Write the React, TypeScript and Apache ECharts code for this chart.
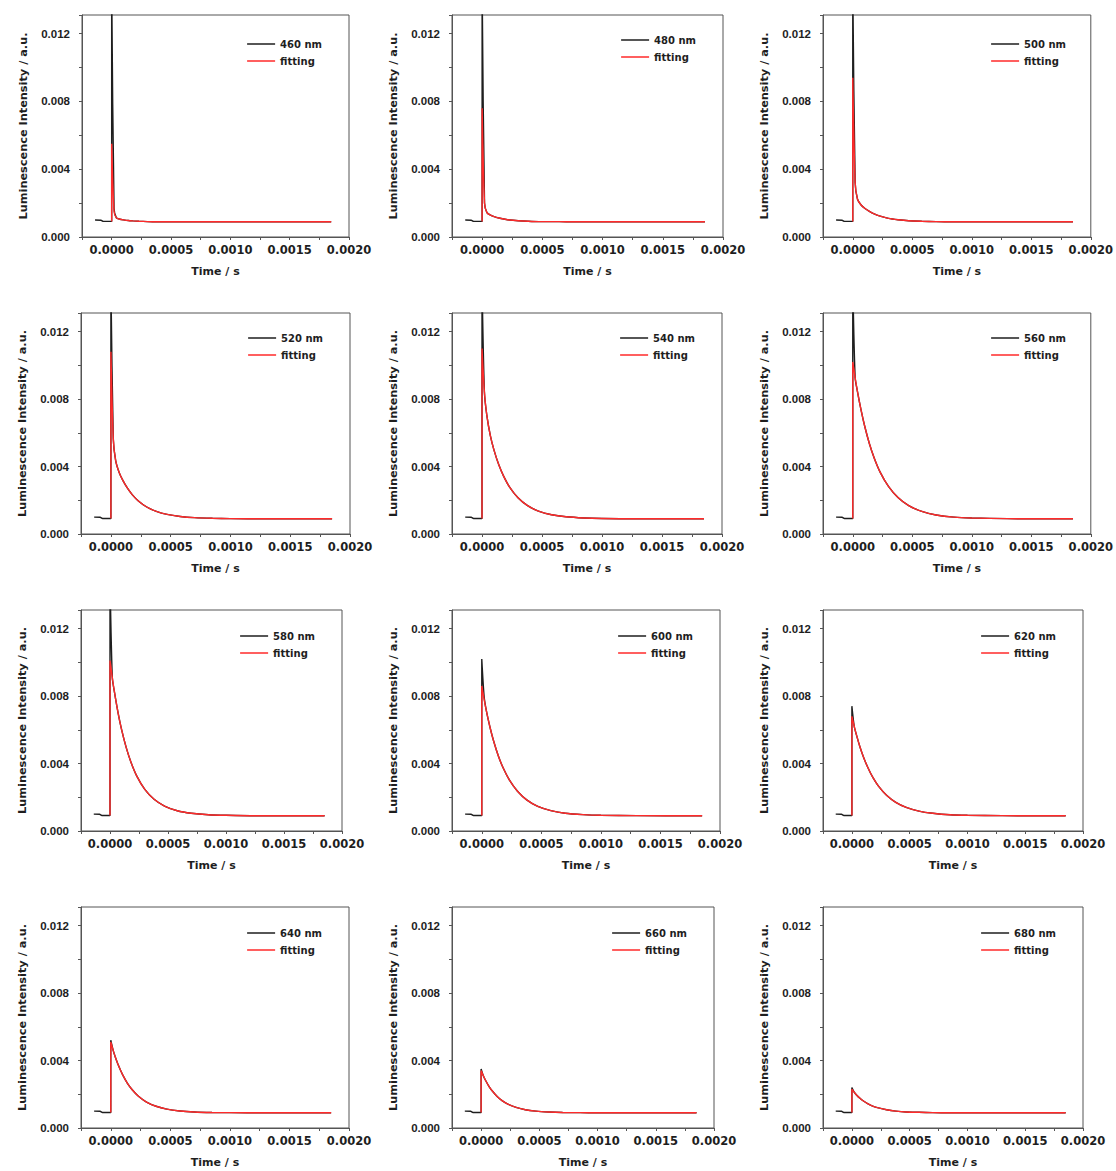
import React, { useEffect, useRef } from "react";
import * as echarts from "echarts";

// Time axis samples (s)
const TIME_PRE = [-0.00014, -0.00009, -0.00007, 0];
const TIME_POST = [0, 0.00002, 0.00004, 0.00007, 0.0001, 0.00014, 0.00018, 0.00023, 0.0003, 0.00038, 0.00047, 0.00058, 0.0007, 0.00085, 0.001, 0.0013, 0.00185];
// Baseline before excitation
const BASE_PRE = [0.001, 0.00099, 0.00092, 0.00092];
const FIT_START = 0.00092;

const LABELS = ["460 nm", "480 nm", "500 nm", "520 nm", "540 nm", "560 nm", "580 nm", "600 nm", "620 nm", "640 nm", "660 nm", "680 nm"];

// Measured decay (black)
const D460 = [0.015, 0.0017, 0.00113, 0.00105, 0.00101, 0.00097, 0.00095, 0.00093, 0.00091, 0.0009, 0.0009, 0.0009, 0.0009, 0.0009, 0.0009, 0.0009, 0.0009];
const D480 = [0.015, 0.002, 0.00144, 0.00129, 0.0012, 0.00112, 0.00106, 0.001, 0.00096, 0.00093, 0.00091, 0.00091, 0.0009, 0.0009, 0.0009, 0.0009, 0.0009];
const D500 = [0.015, 0.00322, 0.00223, 0.00189, 0.0017, 0.00151, 0.00136, 0.00123, 0.0011, 0.00102, 0.00096, 0.00093, 0.00091, 0.0009, 0.0009, 0.0009, 0.0009];
const D520 = [0.015, 0.00564, 0.00435, 0.00363, 0.00318, 0.0027, 0.00232, 0.00196, 0.0016, 0.00134, 0.00116, 0.00104, 0.00097, 0.00093, 0.00091, 0.0009, 0.0009];
const D540 = [0.015, 0.00842, 0.00705, 0.00581, 0.00497, 0.0041, 0.00343, 0.00278, 0.00215, 0.00168, 0.00136, 0.00114, 0.00102, 0.00095, 0.00092, 0.0009, 0.0009];
const D560 = [0.015, 0.00927, 0.00843, 0.00734, 0.0064, 0.00535, 0.00451, 0.00367, 0.00282, 0.00216, 0.00168, 0.00134, 0.00113, 0.001, 0.00095, 0.00091, 0.0009];
const D580 = [0.015, 0.00908, 0.00817, 0.00699, 0.00601, 0.00494, 0.00409, 0.00327, 0.00247, 0.00188, 0.00148, 0.0012, 0.00105, 0.00096, 0.00093, 0.0009, 0.0009];
const D600 = [0.0102, 0.00795, 0.00707, 0.00612, 0.00532, 0.00443, 0.00373, 0.00305, 0.00236, 0.00183, 0.00146, 0.00121, 0.00105, 0.00097, 0.00093, 0.00091, 0.0009];
const D620 = [0.0074, 0.00621, 0.00568, 0.00498, 0.00439, 0.00373, 0.00319, 0.00266, 0.00212, 0.0017, 0.0014, 0.00118, 0.00105, 0.00096, 0.00093, 0.00091, 0.0009];
const D640 = [0.0052, 0.0046, 0.00417, 0.00361, 0.00315, 0.00265, 0.00227, 0.0019, 0.00154, 0.00129, 0.00112, 0.00101, 0.00095, 0.00092, 0.00091, 0.0009, 0.0009];
const D660 = [0.0035, 0.00308, 0.0028, 0.00244, 0.00216, 0.00185, 0.00162, 0.00141, 0.00122, 0.00108, 0.001, 0.00095, 0.00092, 0.00091, 0.0009, 0.0009, 0.0009];
const D680 = [0.0024, 0.00212, 0.00196, 0.00176, 0.0016, 0.00143, 0.0013, 0.00119, 0.00108, 0.001, 0.00095, 0.00093, 0.00091, 0.0009, 0.0009, 0.0009, 0.0009];

// Fitting (red)
const F460 = [0.0055, 0.0015, 0.00113, 0.00105, 0.00101, 0.00097, 0.00095, 0.00093, 0.00091, 0.0009, 0.0009, 0.0009, 0.0009, 0.0009, 0.0009, 0.0009, 0.0009];
const F480 = [0.0076, 0.002, 0.00144, 0.00129, 0.0012, 0.00112, 0.00106, 0.001, 0.00096, 0.00093, 0.00091, 0.00091, 0.0009, 0.0009, 0.0009, 0.0009, 0.0009];
const F500 = [0.0094, 0.00322, 0.00223, 0.00189, 0.0017, 0.00151, 0.00136, 0.00123, 0.0011, 0.00102, 0.00096, 0.00093, 0.00091, 0.0009, 0.0009, 0.0009, 0.0009];
const F520 = [0.0108, 0.00564, 0.00435, 0.00363, 0.00318, 0.0027, 0.00232, 0.00196, 0.0016, 0.00134, 0.00116, 0.00104, 0.00097, 0.00093, 0.00091, 0.0009, 0.0009];
const F540 = [0.011, 0.00842, 0.00705, 0.00581, 0.00497, 0.0041, 0.00343, 0.00278, 0.00215, 0.00168, 0.00136, 0.00114, 0.00102, 0.00095, 0.00092, 0.0009, 0.0009];
const F560 = [0.0102, 0.00927, 0.00843, 0.00734, 0.0064, 0.00535, 0.00451, 0.00367, 0.00282, 0.00216, 0.00168, 0.00134, 0.00113, 0.001, 0.00095, 0.00091, 0.0009];
const F580 = [0.0101, 0.00908, 0.00817, 0.00699, 0.00601, 0.00494, 0.00409, 0.00327, 0.00247, 0.00188, 0.00148, 0.0012, 0.00105, 0.00096, 0.00093, 0.0009, 0.0009];
const F600 = [0.0086, 0.00779, 0.00707, 0.00612, 0.00532, 0.00443, 0.00373, 0.00305, 0.00236, 0.00183, 0.00146, 0.00121, 0.00105, 0.00097, 0.00093, 0.00091, 0.0009];
const F620 = [0.0068, 0.00621, 0.00568, 0.00498, 0.00439, 0.00373, 0.00319, 0.00266, 0.00212, 0.0017, 0.0014, 0.00118, 0.00105, 0.00096, 0.00093, 0.00091, 0.0009];
const F640 = [0.0051, 0.0046, 0.00417, 0.00361, 0.00315, 0.00265, 0.00227, 0.0019, 0.00154, 0.00129, 0.00112, 0.00101, 0.00095, 0.00092, 0.00091, 0.0009, 0.0009];
const F660 = [0.0034, 0.00308, 0.0028, 0.00244, 0.00216, 0.00185, 0.00162, 0.00141, 0.00122, 0.00108, 0.001, 0.00095, 0.00092, 0.00091, 0.0009, 0.0009, 0.0009];
const F680 = [0.0023, 0.00212, 0.00196, 0.00176, 0.0016, 0.00143, 0.0013, 0.00119, 0.00108, 0.001, 0.00095, 0.00093, 0.00091, 0.0009, 0.0009, 0.0009, 0.0009];

const MEASURED = [D460, D480, D500, D520, D540, D560, D580, D600, D620, D640, D660, D680];
const FITTED = [F460, F480, F500, F520, F540, F560, F580, F600, F620, F640, F660, F680];

const X_TICK_LABELS = [0, 0.0005, 0.001, 0.0015, 0.002];
const Y_TICK_LABELS = [0, 0.004, 0.008, 0.012];

// Layout: plot box [left, top, right, bottom] in pixels
const BOXES = [
  [82, 15, 349, 237], [452, 15, 723, 237], [823, 15, 1093, 237],
  [81, 313, 350, 534], [452, 313, 722, 534], [823, 313, 1093, 534],
  [81, 610, 342, 831], [452, 610, 720, 831], [823, 610, 1083, 831],
  [81, 907, 349, 1128], [452, 907, 714, 1128], [823, 907, 1083, 1128],
];
const LEGEND_DY = [17, 13, 17, 13, 13, 13, 14, 14, 14, 14, 14, 14];

const INK = "#1e1e1e";
const AXIS = "#555";
const RED = "#ff2a2a";

function isNear(v: number, list: number[]) {
  return list.some((t) => Math.abs(v - t) < 1e-9);
}

export default function App() {
  const ref = useRef<HTMLDivElement>(null);
  useEffect(() => {
    document.body.style.margin = "0";
    const chart = echarts.init(ref.current!, null, { renderer: "svg" });
    const grid: any[] = [];
    const xAxis: any[] = [];
    const yAxis: any[] = [];
    const series: any[] = [];
    const legend: any[] = [];
    BOXES.forEach(([l, t, r, b], i) => {
      grid.push({
        left: l, top: t, width: r - l, height: b - t,
        show: true, borderColor: AXIS, borderWidth: 1, backgroundColor: "transparent",
      });
      xAxis.push({
        gridIndex: i, type: "value", min: -0.00025, max: 0.002, interval: 0.00025,
        axisLine: { onZero: false, lineStyle: { color: AXIS, width: 1 } },
        axisTick: { length: 3, lineStyle: { color: AXIS } },
        splitLine: { show: false },
        axisLabel: {
          margin: 7, color: INK, fontFamily: "DejaVu Sans", fontWeight: "bold", fontSize: 11.5,
          formatter: (v: number) => (isNear(v, X_TICK_LABELS) ? Math.abs(v).toFixed(4) : ""),
        },
        name: "Time / s", nameLocation: "middle", nameGap: 29,
        nameTextStyle: { color: INK, fontFamily: "DejaVu Sans", fontWeight: "bold", fontSize: 11 },
      });
      yAxis.push({
        gridIndex: i, type: "value", min: 0, max: 0.0131, interval: 0.002,
        axisLine: { onZero: false, lineStyle: { color: AXIS, width: 1 } },
        axisTick: { length: 3, lineStyle: { color: AXIS } },
        splitLine: { show: false },
        axisLabel: {
          margin: 12, color: INK, fontFamily: "Liberation Sans", fontWeight: "bold", fontSize: 11.5,
          formatter: (v: number) => (isNear(v, Y_TICK_LABELS) ? v.toFixed(3) : ""),
        },
        name: "Luminescence Intensity / a.u.", nameLocation: "middle", nameGap: 53,
        nameTextStyle: { color: INK, fontFamily: "DejaVu Sans", fontWeight: "bold", fontSize: 11.3 },
      });
      const measured = TIME_PRE.map((x, k) => [x, BASE_PRE[k]]).concat(
        TIME_POST.map((x, k) => [x, MEASURED[i][k]])
      );
      const fitted = [[0, FIT_START]].concat(TIME_POST.map((x, k) => [x, FITTED[i][k]]));
      series.push({
        type: "line", name: LABELS[i], xAxisIndex: i, yAxisIndex: i, data: measured,
        smooth: 0.25,
        showSymbol: false, symbol: "none", color: INK, lineStyle: { color: INK, width: 1.4 }, z: 2,
      });
      series.push({
        type: "line", name: "fitting", xAxisIndex: i, yAxisIndex: i, data: fitted,
        smooth: 0.25,
        showSymbol: false, symbol: "none", color: RED, lineStyle: { color: RED, width: 1.4 }, z: 3,
      });
      legend.push({
        data: [LABELS[i], "fitting"], orient: "vertical", right: 1116 - r + 22, top: t + LEGEND_DY[i],
        icon: "rect", itemWidth: 28, itemHeight: 1.5, itemGap: 3, selectedMode: false,
        textStyle: { color: INK, fontFamily: "DejaVu Sans", fontWeight: "bold", fontSize: 10, lineHeight: 14 },
      });
    });
    chart.setOption({ animation: false, backgroundColor: "#fff", grid, xAxis, yAxis, series, legend });
    return () => chart.dispose();
  }, []);
  return <div ref={ref} style={{ width: 1116, height: 1171 }} />;
}
